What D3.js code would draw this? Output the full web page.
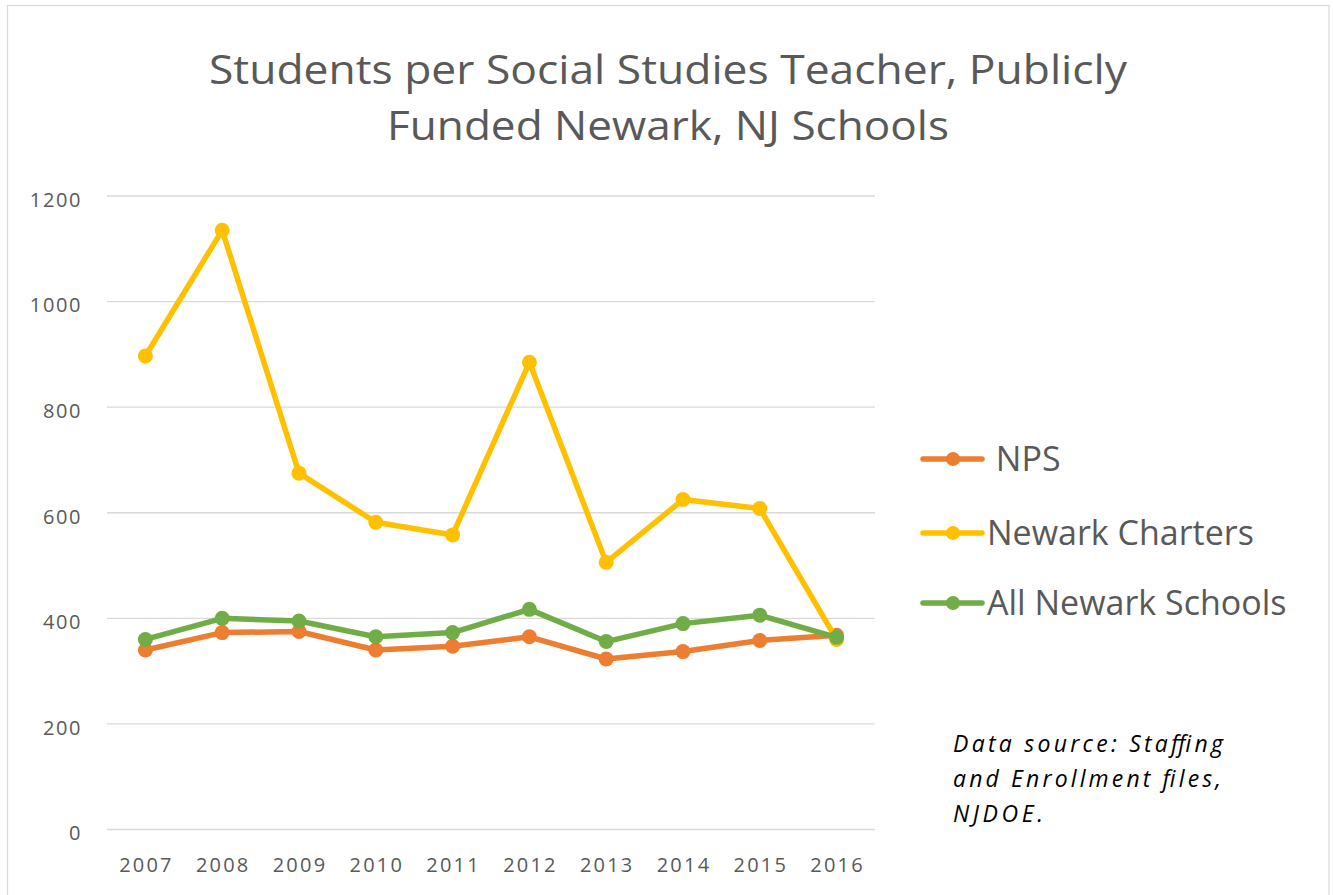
<!DOCTYPE html>
<html><head><meta charset="utf-8">
<script src="https://cdn.jsdelivr.net/npm/d3@7"></script>
<style>body{margin:0;background:#fff;}svg{display:block;}</style>
</head><body>
<svg id="chart" width="1333" height="895"></svg>
<script>
const years = ["2007","2008","2009","2010","2011","2012","2013","2014","2015","2016"];
const npsValues = [340, 373, 375, 340, 347, 365, 323, 337, 358, 368];
const chartersValues = [897, 1135, 675, 582, 558, 885, 506, 625, 608, 360];
const allValues = [360, 400, 395, 365, 373, 417, 356, 390, 406, 364];
const seriesNames = [" NPS", "Newark Charters", "All Newark Schools"];
const seriesColors = ["#ED7D31", "#FFC000", "#70AD47"];
const yTicks = [0, 200, 400, 600, 800, 1000, 1200];
const titleLines = ["Students per Social Studies Teacher, Publicly", "Funded Newark, NJ Schools"];
const sourceLines = ["Data source: Staffing", "and Enrollment files,", "NJDOE."];

const svg = d3.select("#chart");
svg.append("rect").attr("x",7.5).attr("y",5.5).attr("width",1321.5).attr("height",895)
  .attr("fill","#fff").attr("stroke","#d9d9d9").attr("stroke-width",1.2);

const x = d3.scaleBand().domain(years).range([107, 875]);
const y = d3.scaleLinear().domain([0, 1200]).range([829.5, 196]);

// gridlines
svg.append("g").selectAll("line").data(yTicks).join("line")
  .attr("x1",107).attr("x2",875).attr("y1",d=>y(d)).attr("y2",d=>y(d))
  .attr("stroke","#d9d9d9").attr("stroke-width",1.3);

// y axis labels
const yAxis = d3.axisLeft(y).tickValues(yTicks).tickFormat(d3.format("d")).tickSize(0).tickPadding(0);
const gy = svg.append("g").attr("transform","translate(82,4)").call(yAxis);
gy.select(".domain").remove();
gy.selectAll("text").attr("font-family","'Open Sans', sans-serif").attr("font-size",20)
  .attr("letter-spacing",1.6).attr("fill","#595959");

// x axis labels
const xAxis = d3.axisBottom(x).tickSize(0).tickPadding(0);
const gx = svg.append("g").attr("transform","translate(1,0)").call(xAxis);
gx.select(".domain").remove();
gx.selectAll("text").attr("font-family","'Open Sans', sans-serif").attr("font-size",20)
  .attr("letter-spacing",2.2).attr("fill","#595959").attr("dy",null).attr("y",872);

// title
svg.append("g").selectAll("text").data(titleLines).join("text")
  .attr("x",668).attr("y",(d,i)=>84+i*56).attr("text-anchor","middle")
  .attr("font-family","'Open Sans', sans-serif").attr("font-size",41).attr("fill","#595959")
  .attr("textLength",(d,i)=>i===0?918:562).attr("lengthAdjust","spacingAndGlyphs")
  .text(d=>d);

const data = [npsValues, chartersValues, allValues];
const line = d3.line().x((d,i)=>x(years[i])+x.bandwidth()/2).y(d=>y(d));
data.forEach((vals, s) => {
  const g = svg.append("g");
  g.append("path").datum(vals).attr("d", line).attr("fill","none")
    .attr("stroke", seriesColors[s]).attr("stroke-width",5.5).attr("stroke-linejoin","round");
  g.selectAll("circle").data(vals).join("circle")
    .attr("cx",(d,i)=>x(years[i])+x.bandwidth()/2).attr("cy",d=>y(d)).attr("r",7.5)
    .attr("fill",seriesColors[s]);
});

// legend
const legendY = [459, 533, 603];
const lg = svg.append("g");
seriesNames.forEach((name, i) => {
  lg.append("line").attr("x1",923).attr("x2",982).attr("y1",legendY[i]).attr("y2",legendY[i])
    .attr("stroke",seriesColors[i]).attr("stroke-width",5.5).attr("stroke-linecap","round");
  lg.append("circle").attr("cx",953).attr("cy",legendY[i]).attr("r",7).attr("fill",seriesColors[i]);
  lg.append("text").attr("x",987).attr("y",legendY[i]+12)
    .attr("font-family","'Open Sans', sans-serif").attr("font-size",34).attr("fill","#595959")
    .attr("xml:space","preserve").style("white-space","pre").text(name);
});

// source note
const srcLen = [270, 268, 90];
svg.append("g").selectAll("text").data(sourceLines).join("text")
  .attr("x",953).attr("y",(d,i)=>752+i*35)
  .attr("font-family","'Open Sans', sans-serif").attr("font-style","italic").attr("font-size",23)
  .attr("fill","#000").attr("textLength",(d,i)=>srcLen[i]).attr("lengthAdjust","spacing").text(d=>d);
</script>
</body></html>
